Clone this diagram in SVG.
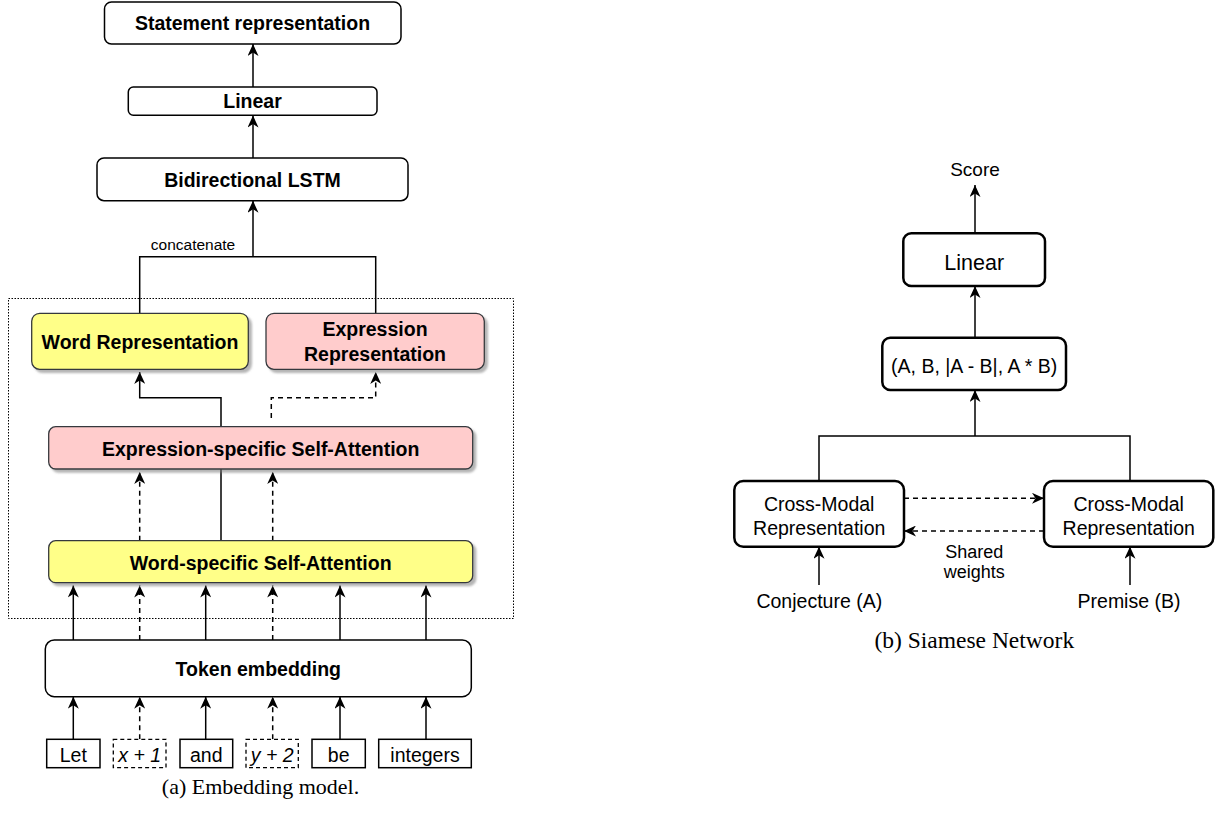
<svg xmlns="http://www.w3.org/2000/svg" width="1218" height="813" viewBox="0 0 1218 813">
<style>
.b{font-family:"Liberation Sans",Arial,sans-serif;font-weight:bold;font-size:19.5px;fill:#000;text-anchor:middle}
.r{font-family:"Liberation Sans",Arial,sans-serif;font-size:19.5px;fill:#000;text-anchor:middle}
.cap{font-family:"Liberation Serif","Times New Roman",serif;font-size:22px;fill:#000;text-anchor:middle}
.box{fill:#fff;stroke:#000;stroke-width:1.5}
.yel{fill:#ffff88;stroke:#36393d;stroke-width:1.3;filter:url(#sh)}
.pnk{fill:#ffcccc;stroke:#36393d;stroke-width:1.3;filter:url(#sh)}
.rb{fill:#fff;stroke:#000;stroke-width:2.5}
.tok{fill:#fff;stroke:#000;stroke-width:1.5}
.tokd{fill:#fff;stroke:#000;stroke-width:1.3;stroke-dasharray:4 3}
.ln{fill:none;stroke:#000;stroke-width:1.5}
.dl{fill:none;stroke:#000;stroke-width:1.5;stroke-dasharray:5 4}
.a{marker-end:url(#ah)}
</style>
<defs>
<marker id="ah" viewBox="0 0 12 11" refX="12" refY="5.5" markerWidth="12" markerHeight="11" markerUnits="userSpaceOnUse" orient="auto">
<path d="M0,0 L12,5.5 L0,11 L3.5,5.5 z" fill="#000"/>
</marker>
<filter id="sh" x="-10%" y="-10%" width="130%" height="140%">
<feDropShadow dx="3" dy="3" stdDeviation="0.8" flood-color="#777" flood-opacity="0.55"/>
</filter>
</defs>

<rect x="8.5" y="298.5" width="505" height="320" fill="none" stroke="#000" stroke-width="1" stroke-dasharray="1.5 1.5"/>

<g id="connectors">
<line class="ln a" x1="253" y1="87" x2="253" y2="44"/>
<line class="ln a" x1="253" y1="158" x2="253" y2="115.5"/>
<polyline class="ln" points="139.7,313.3 139.7,256.7 375.7,256.7 375.7,313.3"/>
<line class="ln a" x1="253" y1="256.7" x2="253" y2="200.7"/>
<polyline class="ln a" points="221,426.7 221,397.7 139.7,397.7 139.7,372"/>
<polyline class="dl a" points="271.3,418 271.3,397.7 375.7,397.7 375.7,372"/>
<line class="ln" x1="221" y1="540.7" x2="221" y2="469"/>
<line class="dl a" x1="139.7" y1="540.7" x2="139.7" y2="472"/>
<line class="dl a" x1="272.7" y1="540.7" x2="272.7" y2="472"/>
<line class="ln a" x1="73.3" y1="640" x2="73.3" y2="585.5"/>
<line class="dl a" x1="139.7" y1="640" x2="139.7" y2="585.5"/>
<line class="ln a" x1="205.7" y1="640" x2="205.7" y2="585.5"/>
<line class="dl a" x1="272.7" y1="640" x2="272.7" y2="585.5"/>
<line class="ln a" x1="340" y1="640" x2="340" y2="585.5"/>
<line class="ln a" x1="426" y1="640" x2="426" y2="585.5"/>
<line class="ln a" x1="73.3" y1="739.3" x2="73.3" y2="696.7"/>
<line class="dl a" x1="139.7" y1="739.3" x2="139.7" y2="696.7"/>
<line class="ln a" x1="205.7" y1="739.3" x2="205.7" y2="696.7"/>
<line class="dl a" x1="272.7" y1="739.3" x2="272.7" y2="696.7"/>
<line class="ln a" x1="340" y1="739.3" x2="340" y2="696.7"/>
<line class="ln a" x1="426" y1="739.3" x2="426" y2="696.7"/>
<line class="ln a" x1="975" y1="233.3" x2="975" y2="185"/>
<line class="ln a" x1="975" y1="337.7" x2="975" y2="286"/>
<polyline class="ln" points="819,481 819,436 1130,436 1130,481"/>
<line class="ln a" x1="975" y1="436" x2="975" y2="390"/>
<line class="dl a" x1="904" y1="498.3" x2="1044" y2="498.3"/>
<line class="dl a" x1="1044" y1="531" x2="904" y2="531"/>
<line class="ln a" x1="819" y1="585" x2="819" y2="546.7"/>
<line class="ln a" x1="1130" y1="585" x2="1130" y2="546.7"/>
</g>

<g id="statement"><rect class="box" x="104.5" y="2" width="296.5" height="42" rx="7"/><text class="b" x="252.5" y="30">Statement representation</text></g>
<g id="linear-a"><rect class="box" x="128.3" y="87" width="248.7" height="28.3" rx="5"/><text class="b" x="252.5" y="108">Linear</text></g>
<g id="lstm"><rect class="box" x="97" y="158" width="311" height="42.7" rx="7"/><text class="b" x="252.5" y="186.5">Bidirectional LSTM</text></g>
<text class="r" x="193" y="249.5" style="font-size:15.5px">concatenate</text>

<g id="word-rep"><rect class="yel" x="31.7" y="313.3" width="216.6" height="56" rx="8"/><text class="b" x="140" y="348.5">Word Representation</text></g>
<g id="expr-rep"><rect class="pnk" x="266" y="313.3" width="218.3" height="56" rx="8"/><text class="b" x="375" y="336">Expression</text><text class="b" x="375" y="361.3">Representation</text></g>
<g id="expr-sa"><rect class="pnk" x="48.7" y="426.7" width="424" height="42.3" rx="7"/><text class="b" x="260.7" y="455.8">Expression-specific Self-Attention</text></g>
<g id="word-sa"><rect class="yel" x="48.7" y="540.7" width="424" height="42" rx="7"/><text class="b" x="260.7" y="569.5">Word-specific Self-Attention</text></g>
<g id="token-emb"><rect class="box" x="45.3" y="640" width="426" height="56.7" rx="9"/><text class="b" x="258.3" y="676">Token embedding</text></g>

<g id="tok-let"><rect class="tok" x="46.7" y="739.3" width="53.3" height="28.4"/><text class="r" x="73.3" y="762">Let</text></g>
<g id="tok-x1"><rect class="tokd" x="113.3" y="739.3" width="52.7" height="28.4"/><text class="r" x="139.7" y="762" font-style="italic">x + 1</text></g>
<g id="tok-and"><rect class="tok" x="180" y="739.3" width="52.7" height="28.4"/><text class="r" x="206.3" y="762">and</text></g>
<g id="tok-y2"><rect class="tokd" x="246" y="739.3" width="52.3" height="28.4"/><text class="r" x="272.2" y="762" font-style="italic">y + 2</text></g>
<g id="tok-be"><rect class="tok" x="312" y="739.3" width="53.3" height="28.4"/><text class="r" x="338.7" y="762">be</text></g>
<g id="tok-integers"><rect class="tok" x="378.7" y="739.3" width="92.6" height="28.4"/><text class="r" x="425" y="762">integers</text></g>
<text class="cap" x="260.5" y="794">(a) Embedding model.</text>

<g id="score"><text class="r" x="975" y="176" style="font-size:19px">Score</text></g>
<g id="linear-b"><rect class="rb" x="903.3" y="233.3" width="141.7" height="52.7" rx="8"/><text class="r" x="974.2" y="269.5" style="font-size:21.5px">Linear</text></g>
<g id="combine"><rect class="rb" x="882.3" y="337.7" width="183.7" height="52.3" rx="8"/><text class="r" x="974.2" y="372.5">(A, B, |A - B|, A * B)</text></g>
<g id="cm-a"><rect class="rb" x="734.3" y="481" width="169.7" height="65.7" rx="9"/><text class="r" x="819.2" y="511.3">Cross-Modal</text><text class="r" x="819.2" y="534.5">Representation</text></g>
<g id="cm-b"><rect class="rb" x="1044" y="481" width="169.3" height="65.7" rx="9"/><text class="r" x="1128.7" y="511.3">Cross-Modal</text><text class="r" x="1128.7" y="534.5">Representation</text></g>
<text class="r" x="974.3" y="558" style="font-size:18px">Shared</text>
<text class="r" x="974.3" y="578" style="font-size:18px">weights</text>
<g id="conj"><text class="r" x="819.3" y="608">Conjecture (A)</text></g>
<g id="premise"><text class="r" x="1129" y="608">Premise (B)</text></g>
<text class="cap" x="974.3" y="648" style="font-size:23.5px">(b) Siamese Network</text>
</svg>
